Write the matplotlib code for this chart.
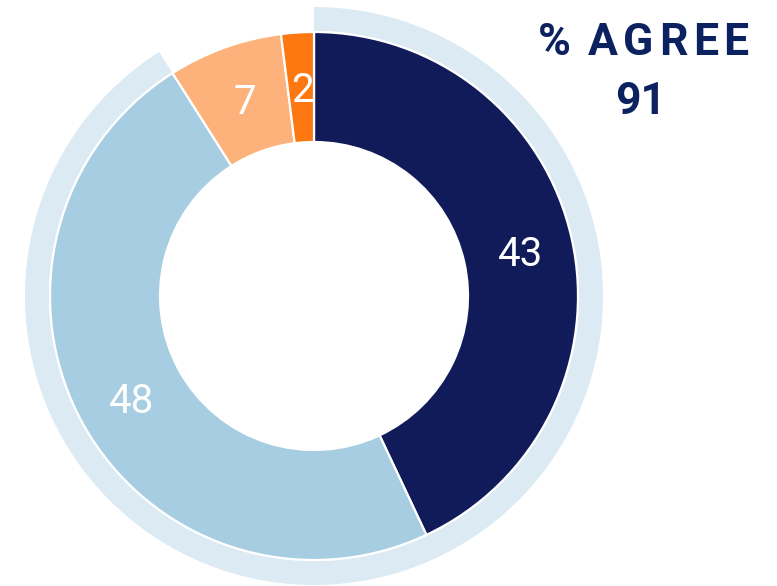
import matplotlib
matplotlib.use("Agg")
import matplotlib.pyplot as plt

values = [43, 48, 7, 2]
labels = ["43", "48", "7", "2"]
colors = ["#121b5a", "#a6cde1", "#fdb27b", "#fd7811"]
agree_total = 91
title_text = "% AGREE"

fig = plt.figure(figsize=(7.77, 5.86), dpi=100)
ax = fig.add_axes([0, 0, 1, 1])

cx, cy = 314, 290
R = 264
W = 110

# outer "agree" ring
ax.pie([agree_total, 100 - agree_total], radius=289, center=(cx, cy),
       startangle=90, counterclock=False,
       colors=["#dbeaf3", "none"],
       wedgeprops=dict(width=24, linewidth=0), frame=True)

wedges, texts = ax.pie(values, radius=R, center=(cx, cy), startangle=90,
                       counterclock=False, colors=colors,
                       labels=labels, labeldistance=(R - W / 2 + 1) / R,
                       wedgeprops=dict(width=W, edgecolor="white", linewidth=1.6),
                       textprops=dict(color="white", fontsize=29, fontfamily="Roboto",
                                      fontweight="normal", ha="center", va="center"),
                       frame=True)
for w, t in zip(wedges, texts):
    px, py = t.get_position()
    t.set_position((px + 2, py - 4))
    t.set_clip_path(w)

ax.set_xlim(0, 777)
ax.set_ylim(0, 586)
ax.set_aspect("equal")
ax.axis("off")

# title with letter spacing
fig.canvas.draw()
renderer = fig.canvas.get_renderer()
title_color = "#0c2260"
fs = 32
tracking = 5.5
x0 = 538
inv = ax.transData.inverted()
x = x0
for ch in title_text:
    t = ax.text(x, 543, ch, color=title_color, fontsize=fs, fontfamily="Roboto",
                fontweight="bold", ha="left", va="center")
    bb = t.get_window_extent(renderer)
    w_data = inv.transform((bb.x1, 0))[0] - inv.transform((bb.x0, 0))[0]
    if ch == " ":
        w_data *= 0.5
    x += w_data + tracking

ax.text(641, 484, str(agree_total), color=title_color, fontsize=fs, fontfamily="Roboto",
        fontweight="bold", ha="center", va="center")

fig.savefig("out.png", dpi=100)
